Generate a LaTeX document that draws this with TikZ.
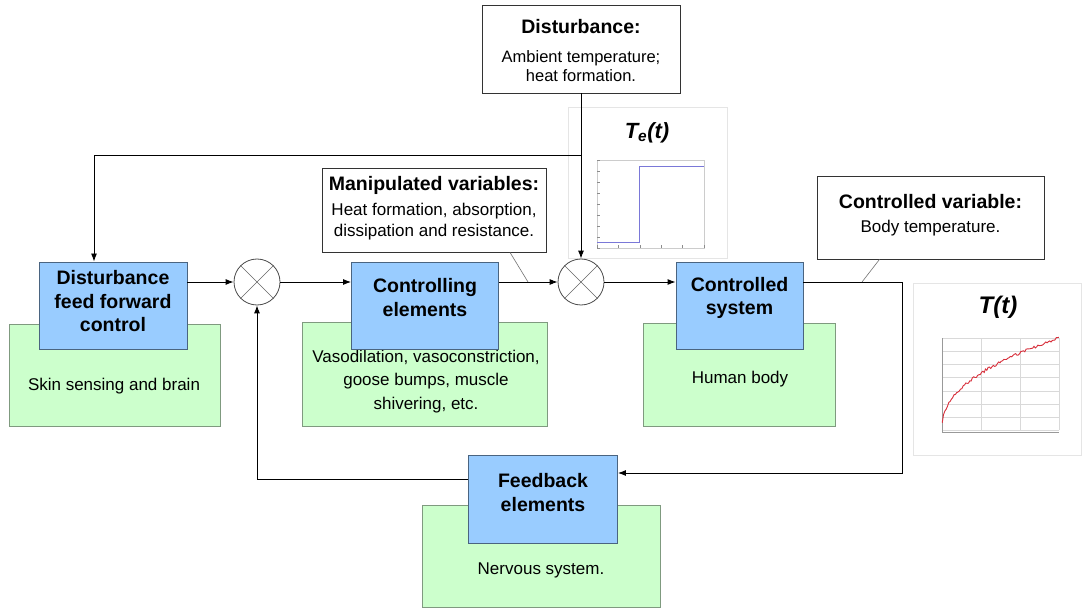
\documentclass[tikz,border=0pt]{standalone}
\usepackage{fontspec}
\setmainfont{Liberation Sans}
\usetikzlibrary{arrows.meta,calc}
\definecolor{bluefill}{HTML}{99CCFF}
\definecolor{blueline}{HTML}{4A6480}
\definecolor{greenfill}{HTML}{CCFFCC}
\definecolor{greenline}{HTML}{7F9A7F}
\definecolor{stepcol}{HTML}{7A78D8}
\definecolor{curvecol}{HTML}{D8303C}
\tikzset{
  bluebox/.style={draw=blueline, fill=bluefill, line width=0.9pt, inner sep=0pt},
  greenbox/.style={draw=greenline, fill=greenfill, line width=0.9pt, inner sep=0pt},
  callbox/.style={draw=black!80, fill=white, line width=0.8pt, inner sep=0pt},
  blocktext/.style={font=\fontsize{19.5}{23.5}\selectfont\bfseries, align=center, inner sep=0pt},
  bodytext/.style={font=\fontsize{17}{23.5}\selectfont, align=center, inner sep=0pt},
  titletext/.style={font=\fontsize{19.5}{23}\selectfont\bfseries, align=center, inner sep=0pt},
  sumj/.style={circle, draw=black!70, fill=white, line width=0.8pt, minimum size=46pt, inner sep=0pt},
  xline/.style={draw=black!60, line width=0.6pt},
  conn/.style={draw=black, line width=0.9pt, -{Latex[length=8pt,width=6pt]}},
  plain/.style={draw=black, line width=0.9pt},
  callout/.style={draw=black!55, line width=0.6pt},
  frame/.style={draw=black!10, line width=0.8pt, fill=white},
  plottitle/.style={font=\bfseries\itshape, inner sep=0pt}
}
\begin{document}
\begin{tikzpicture}[x=1pt,y=-1pt]
\useasboundingbox[fill=white] (0,0) rectangle (1083,609);

% ---------- plot images ----------
\node[frame, minimum width=159pt, minimum height=151pt] (teframe) at (647.5,182.5) {};
\node[plottitle, font=\fontsize{22}{24}\selectfont\bfseries\itshape] (tetitle) at (647,133) {T\textsubscript{e}(t)};
\draw[black!20, line width=0.5pt] (597,160) rectangle (704,248);
\foreach \yy in {160,171,182,193,204,215,226,237,248} \draw[black!45, line width=0.4pt] (597,\yy) -- (599.5,\yy);
\foreach \xx in {597,618.4,639.8,661.2,682.6,704} \draw[black!45, line width=0.4pt] (\xx,248) -- (\xx,245.5);
\draw[stepcol, line width=0.9pt] (597,242) -- (639,242) -- (639,166) -- (704,166);

\node[frame, minimum width=168pt, minimum height=172pt] (tframe) at (997,369) {};
\node[plottitle, font=\fontsize{24}{26}\selectfont\bfseries\itshape] (ttitle) at (998,307) {T(t)};
\foreach \yy in {338,351,364,377,391,404,417,430} \draw[black!15, line width=0.5pt] (942,\yy) -- (1059,\yy);
\foreach \xx in {942,981,1020,1059} \draw[black!15, line width=0.5pt] (\xx,338) -- (\xx,430);
\draw[black!40, line width=0.5pt] (942,338) -- (942,432) -- (1059,432);
\pgfmathsetseed{7}
\draw[curvecol, line width=0.9pt] plot[domain=0.002:1, samples=90] ({942+117*\x}, {428-90*(\x)^0.45 + 1.4*rand});

% ---------- green boxes ----------
\node[greenbox, minimum width=211pt, minimum height=102pt] (g1) at (114.5,375) {};
\node[greenbox, minimum width=245pt, minimum height=104pt] (g2) at (424.5,374) {};
\node[greenbox, minimum width=192pt, minimum height=103pt] (g3) at (739.5,374.5) {};
\node[greenbox, minimum width=238pt, minimum height=102pt] (g4) at (541,556) {};
\node[bodytext] (g1t) at (114,386) {Skin sensing and brain};
\node[bodytext] (g2t) at (426,381.5) {Vasodilation, vasoconstriction,\\goose bumps, muscle\\shivering, etc.};
\node[bodytext] (g3t) at (740,379) {Human body};
\node[bodytext] (g4t) at (541,570) {Nervous system.};

% ---------- blue blocks ----------
\node[bluebox, minimum width=148pt, minimum height=87pt] (dff) at (113,305.5) {};
\node[bluebox, minimum width=147pt, minimum height=87pt] (ctrl) at (425,305.5) {};
\node[bluebox, minimum width=127pt, minimum height=87pt] (csys) at (739.5,305.5) {};
\node[bluebox, minimum width=149pt, minimum height=88pt] (fb) at (543,499) {};
\node[blocktext] (dfft) at (113,301.5) {Disturbance\\feed forward\\control};
\node[blocktext] (ctrlt) at (425,297.5) {Controlling\\elements};
\node[blocktext] (csyst) at (739.5,298) {Controlled\\system};
\node[blocktext] (fbt) at (543,492.5) {Feedback\\elements};

% ---------- callout boxes ----------
\node[callbox, minimum width=198pt, minimum height=88pt] (dist) at (581,49) {};
\node[titletext] (distt) at (581,27) {Disturbance:};
\node[bodytext, font=\fontsize{16.5}{18.5}\selectfont] (distb) at (581,66) {Ambient temperature;\\heat formation.};

\node[callbox, minimum width=224pt, minimum height=84pt] (mv) at (434,210) {};
\node[titletext] (mvt) at (434,185) {Manipulated variables:};
\node[bodytext, font=\fontsize{17}{20.5}\selectfont] (mvb) at (434,221.5) {Heat formation, absorption,\\dissipation and resistance.};

\node[callbox, minimum width=227pt, minimum height=83pt] (cv) at (930.5,217.5) {};
\node[titletext] (cvt) at (930.5,202) {Controlled variable:};
\node[bodytext] (cvb) at (930.5,228.5) {Body temperature.};

% ---------- summing junctions ----------
\node[sumj] (s1) at (257,282) {};
\node[sumj] (s2) at (581,282) {};
\foreach \s in {s1,s2} {
  \draw[xline] (\s.north west) -- (\s.south east);
  \draw[xline] (\s.north east) -- (\s.south west);
}

% ---------- connectors ----------
\coordinate (j) at (581,155);
\coordinate (dfftop) at ($(dff.north)+(-19,0)$);
\draw[plain] (dist.south) -- (j);
\draw[conn] (j) -- (s2.north);
\draw[conn] (j) -| (dfftop);

\draw[conn] (dff.east |- s1.center) -- (s1.west);
\draw[conn] (s1.east) -- (ctrl.west |- s1.center);
\draw[conn] (ctrl.east |- s2.center) -- (s2.west);
\draw[conn] (s2.east) -- (csys.west |- s2.center);

\coordinate (fbc) at (902,473);
\draw[conn] (csys.east |- s2.center) -| (fbc) -- (fb.east |- fbc);
\coordinate (fbl) at ($(fb.west)+(0,-20)$);
\draw[conn] (fbl) -| (s1.south);

% ---------- callout pointers ----------
\coordinate (mvp) at (528,282);
\coordinate (cvp) at (862,282);
\draw[callout] ($(mv.south)+(76,0)$) -- (mvp);
\draw[callout] ($(cv.south)+(-51,0)$) -- (cvp);
\end{tikzpicture}
\end{document}
